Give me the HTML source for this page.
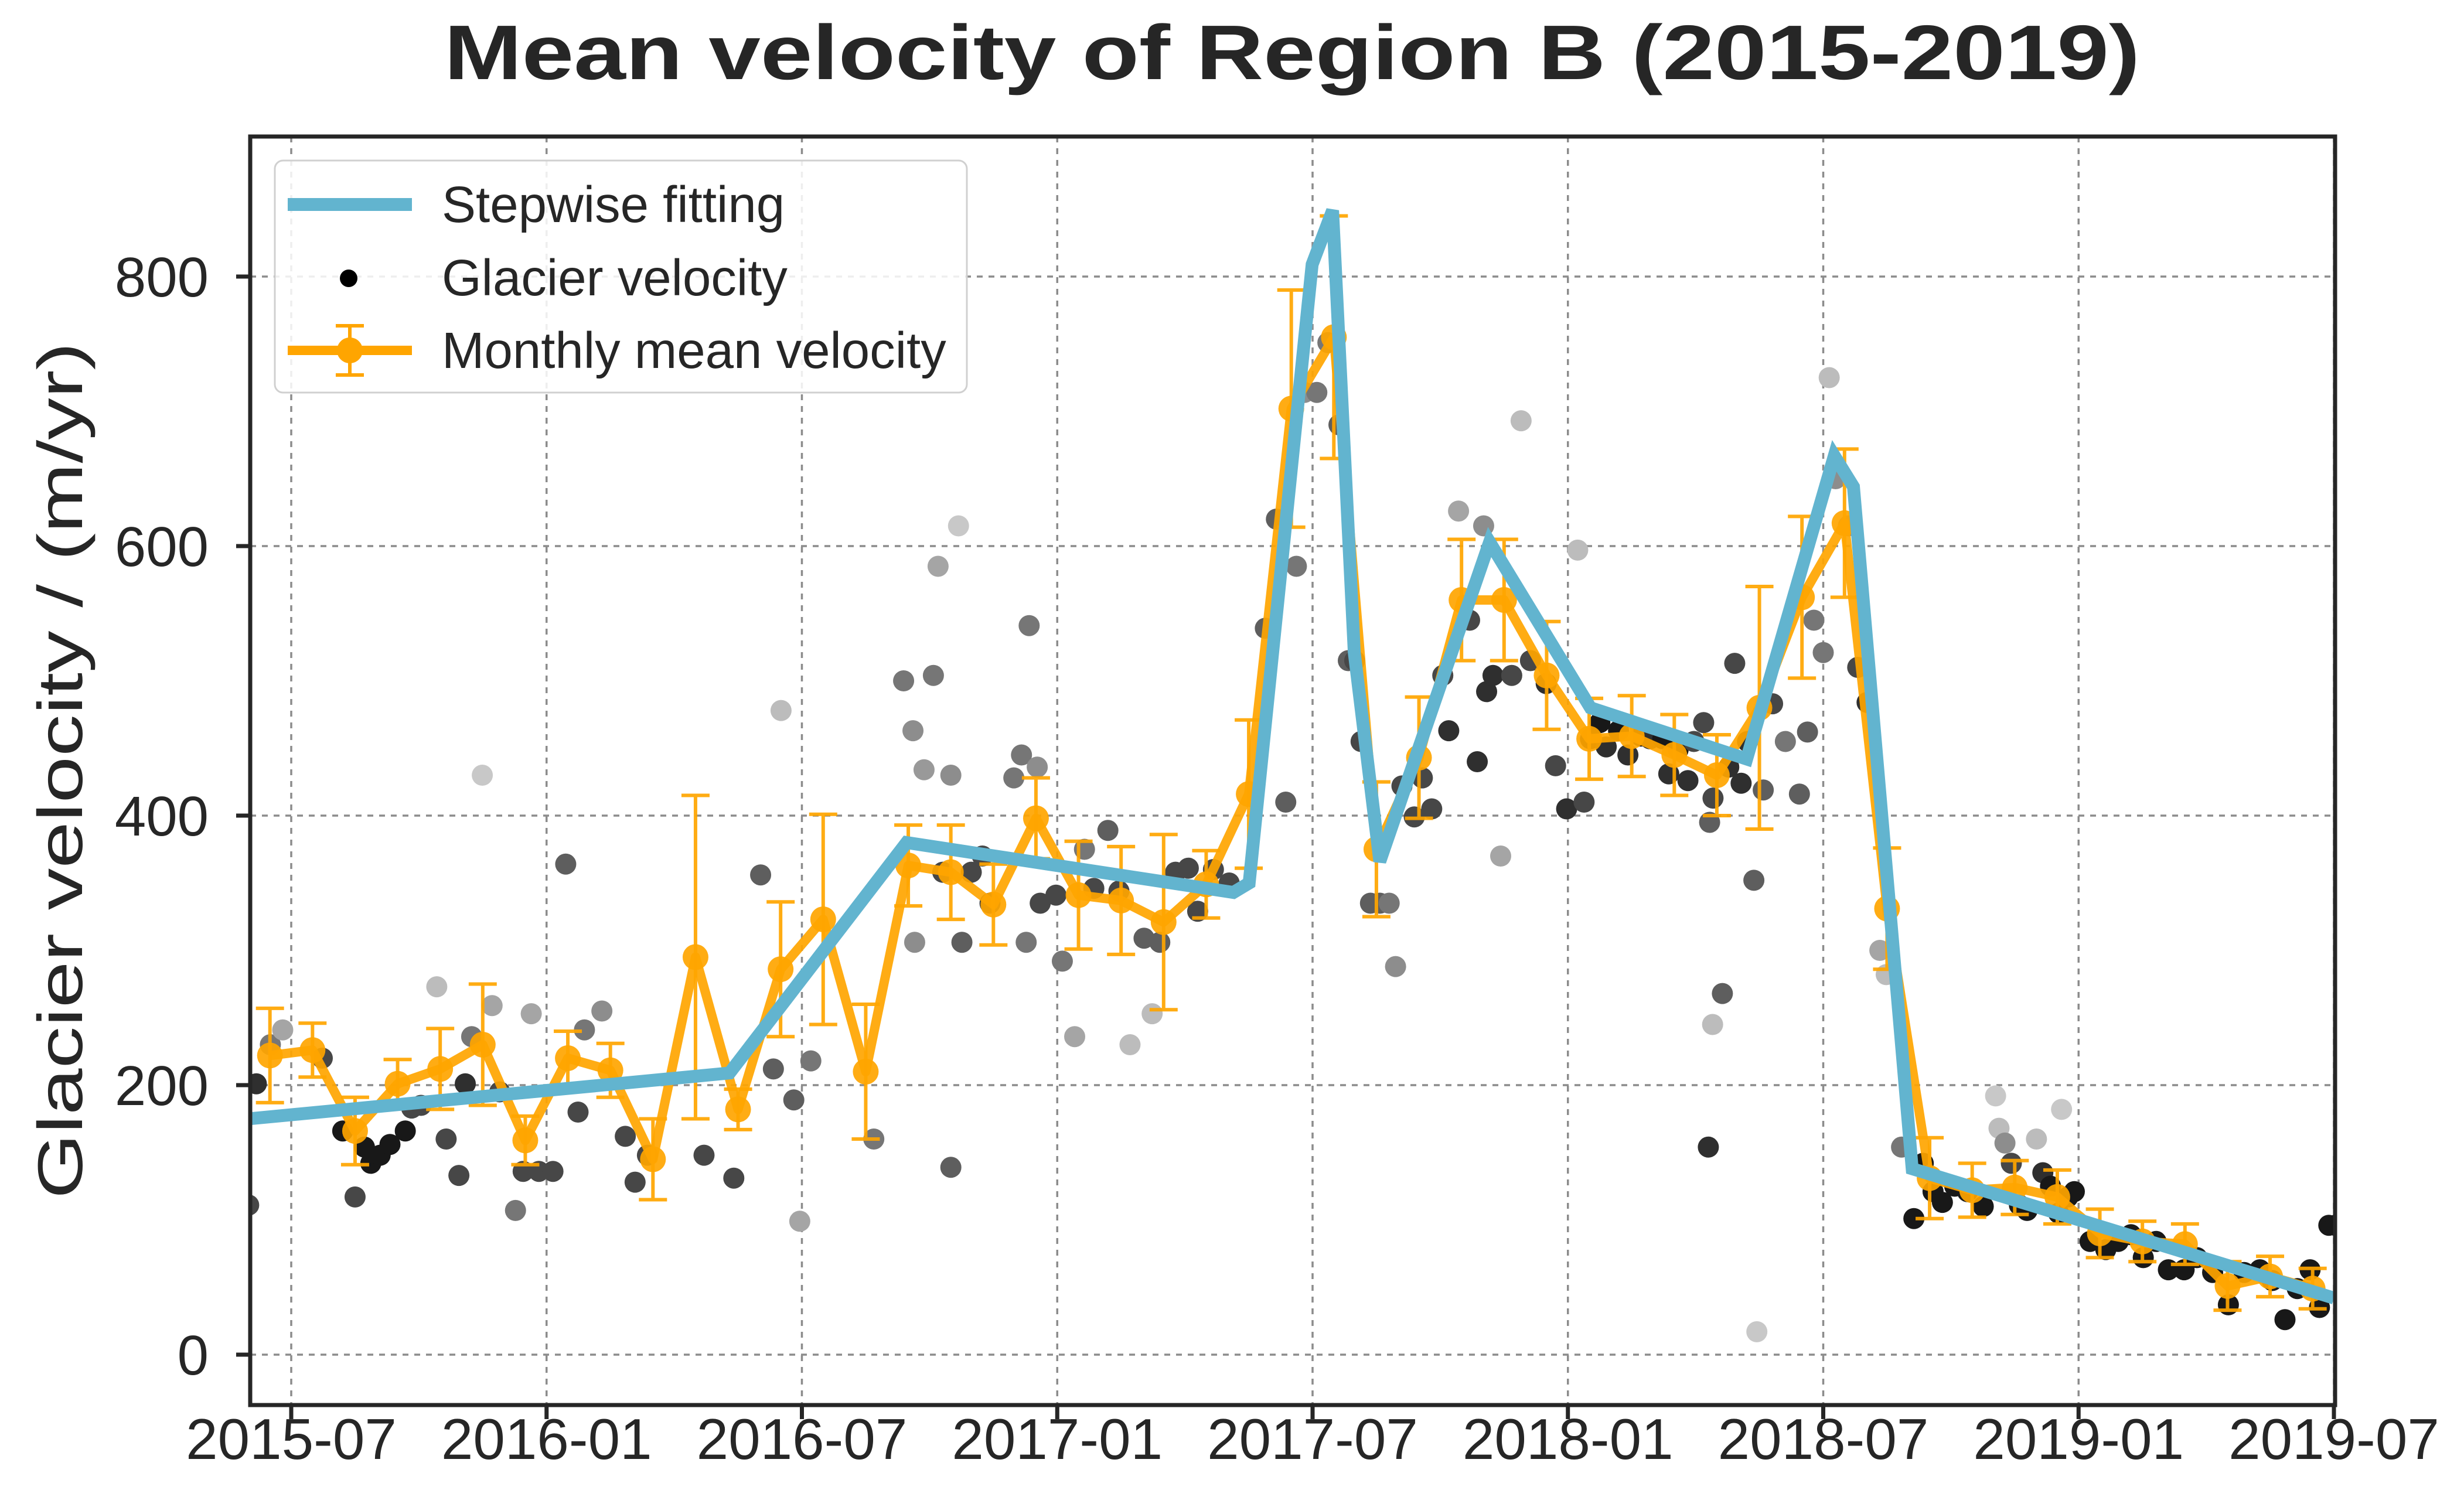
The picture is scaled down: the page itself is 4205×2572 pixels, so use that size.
<!DOCTYPE html>
<html><head><meta charset="utf-8"><style>html,body{margin:0;padding:0;background:#fff}svg{display:block}</style></head>
<body>
<svg id="chart" xmlns="http://www.w3.org/2000/svg" width="4205" height="2572" viewBox="0 0 4205 2572" font-family="Liberation Sans, Arial, sans-serif">
<defs><clipPath id="plotclip"><rect x="427" y="233" width="3558" height="2165"/></clipPath></defs>
<rect width="4205" height="2572" fill="#fff"/>
<text x="2205" y="135" text-anchor="middle" font-size="132" font-weight="bold" fill="#262626" textLength="2894" lengthAdjust="spacingAndGlyphs">Mean velocity of Region B (2015-2019)</text>
<text transform="translate(140,1315) rotate(-90)" text-anchor="middle" font-size="108" fill="#262626" textLength="1462" lengthAdjust="spacingAndGlyphs">Glacier velocity / (m/yr)</text>
<g id="grid"></g>
<g id="marks" clip-path="url(#plotclip)"></g>
<g id="axes"></g>
<g id="legend"></g>
</svg>
<script>
// months since 2015-07-01
const xTicksM = [0, 6, 12, 18, 24, 30, 36, 42, 48];
const xTickLabels = ['2015-07','2016-01','2016-07','2017-01','2017-07','2018-01','2018-07','2019-01','2019-07'];
const yTicks = [0, 200, 400, 600, 800];
const yTickLabels = ['0','200','400','600','800'];

const stepM = [-1.0, 10.3, 14.46, 22.14, 22.51, 23.99, 24.47, 24.98, 25.58, 28.16, 30.53, 34.2, 36.26, 36.71, 38.09, 48.0];
const stepV = [175, 209, 380, 343, 350, 809, 849, 521, 366, 603, 480, 442, 667, 644, 138, 42];

const monthStart = -0.5;
const monthlyMean = [222,226,166,201,212,230,159,220,211,145,295,182,286,323,210,363,358,334,398,341,337,321,349,416,702,755,375,443,560,560,504,457,459,445,430,480,562,617,331,131,122,124,117,90,84,82,51,58,49];
const monthlyErr = [35,20,25,18,30,45,18,20,20,30,120,15,50,78,50,30,35,30,30,40,40,65,25,55,88,90,50,45,45,45,40,30,30,30,30,90,60,55,45,30,20,20,20,18,15,15,18,15,15];

const scatM = [-1.0,-0.82,-0.49,-0.2,0.73,1.21,1.5,1.72,1.87,2.09,2.32,2.68,2.83,3.05,3.42,3.64,3.94,4.09,4.24,4.49,4.72,4.9,5.27,5.45,5.64,5.82,6.15,6.45,6.74,6.89,7.3,7.85,8.08,8.37,9.7,10.4,11.03,11.33,11.51,11.81,11.95,12.21,13.69,
14.39,14.61,14.65,14.87,15.09,15.2,15.31,15.5,15.5,15.68,15.76,15.98,16.24,16.42,16.98,17.16,17.27,17.34,17.53,17.6,17.97,18.12,18.41,18.64,18.86,19.19,19.45,19.71,20.04,20.23,20.41,20.78,21.08,21.3,21.67,22.04,
22.89,23.15,23.37,23.62,23.81,24.1,24.36,24.62,24.84,24.99,25.14,25.36,25.58,25.8,25.95,26.1,26.39,26.58,26.8,27.06,27.2,27.43,27.69,27.87,28.02,28.09,28.24,28.42,28.68,28.9,29.12,29.49,29.71,29.97,30.23,30.38,30.53,30.75,30.9,31.19,31.41,31.71,31.93,32.23,32.37,32.59,32.82,32.96,33.19,33.3,33.4,33.33,33.41,33.63,33.78,33.92,34.07,34.22,34.37,34.44,34.59,34.81,35.11,35.44,35.63,35.78,36.0,36.14,36.29,36.59,36.81,37.03,37.33,37.48,
37.84,38.13,38.35,38.58,38.8,39.09,39.39,39.76,40.05,40.13,40.27,40.42,40.61,40.79,41.01,41.16,41.34,41.53,41.6,41.75,41.9,42.27,42.64,42.93,43.23,43.52,43.82,44.11,44.48,44.78,45.15,45.52,45.89,46.26,46.55,46.85,47.14,47.44,47.66,47.88,48.03];
const scatV = [111,201,230,241,220,166,117,154,142,148,156,166,183,185,273,160,133,201,236,430,259,195,107,136,253,136,136,364,180,241,255,162,128,148,148,131,356,212,478,189,99,218,160,
500,463,306,434,504,585,358,139,430,615,306,358,370,335,428,445,306,541,436,335,341,292,236,375,346,389,344,230,309,253,306,358,361,329,360,350,
539,620,410,585,714,714,751,690,515,515,455,335,335,335,288,422,399,428,405,504,463,626,545,440,615,492,504,370,504,693,515,498,437,405,597,410,457,469,451,463,445,459,457,457,431,449,426,455,469,154,245,395,413,268,436,513,424,455,352,17,419,483,455,416,462,545,521,725,650,615,510,484,300,282,
154,101,142,121,113,125,121,110,192,168,157,142,111,107,160,135,125,105,182,117,121,84,78,84,89,72,84,63,63,72,61,37,61,63,55,26,49,63,35,96,96];
const scatShade = [.3,.2,.5,.7,.3,.1,.3,.1,.1,.1,.1,.1,.3,.3,.8,.3,.3,.2,.5,.85,.7,.3,.5,.3,.7,.3,.3,.4,.3,.5,.6,.3,.3,.3,.3,.3,.4,.4,.8,.4,.7,.5,.5,
.5,.6,.6,.65,.5,.7,.3,.4,.6,.85,.4,.3,.3,.3,.5,.5,.5,.5,.6,.3,.3,.5,.7,.5,.3,.4,.3,.8,.4,.8,.4,.3,.3,.3,.3,.3,
.4,.4,.4,.5,.6,.5,.5,.4,.4,.3,.3,.4,.4,.5,.6,.3,.3,.3,.3,.3,.2,.7,.3,.2,.6,.2,.2,.7,.3,.8,.3,.2,.3,.2,.8,.3,.1,.1,.2,.1,.2,.1,.2,.1,.2,.1,.2,.3,.3,.2,.8,.4,.3,.4,.2,.3,.2,.2,.4,.85,.4,.3,.5,.4,.4,.5,.5,.8,.6,.6,.3,.2,.7,.8,
.5,.1,.1,.1,.1,.1,.1,.1,.85,.8,.6,.3,.1,.1,.8,.2,.1,.1,.85,.1,.1,.1,.1,.1,.1,.1,.1,.1,.1,.1,.1,.1,.1,.1,.1,.1,.1,.1,.1,.1,.1];

const NS = 'http://www.w3.org/2000/svg';
const X0 = 427, X1 = 3985, Y0 = 233, Y1 = 2398;
function xs(m) { return 497 + m * 72.625; }
function ys(v) { return 2312 - v * 2.3; }
function mk(tag, attrs, parent) {
  const e = document.createElementNS(NS, tag);
  for (const k in attrs) e.setAttribute(k, attrs[k]);
  parent.appendChild(e);
  return e;
}
const grid = document.getElementById('grid');
const marks = document.getElementById('marks');
const axes = document.getElementById('axes');
const legend = document.getElementById('legend');

xTicksM.forEach((m, i) => {
  const l = mk('line', {x1: xs(m), x2: xs(m), y1: Y0, y2: Y1, stroke: '#8c8c8c', 'stroke-width': 3.5, 'stroke-dasharray': '10,10'}, grid);
  
  
});
yTicks.forEach((v, i) => {
  const l = mk('line', {x1: X0, x2: X1, y1: ys(v), y2: ys(v), stroke: '#8c8c8c', 'stroke-width': 3.5, 'stroke-dasharray': '10,10'}, grid);
  
  
});

scatM.forEach((m, i) => {
  const g = Math.round(scatShade[i] * 235);
  const c = mk('circle', {cx: xs(m), cy: ys(scatV[i]), r: 18, fill: `rgb(${g},${g},${g})`}, marks);
  
  
});

monthlyMean.forEach((v, i) => {
  const x = xs(monthStart + i);
  const e = monthlyErr[i];
  const g = mk('g', {stroke: '#ffa500', 'stroke-width': 6, opacity: 0.92}, marks);
  
  
  mk('line', {x1: x, x2: x, y1: ys(v - e), y2: ys(v + e)}, g);
  mk('line', {x1: x - 24, x2: x + 24, y1: ys(v - e), y2: ys(v - e)}, g);
  mk('line', {x1: x - 24, x2: x + 24, y1: ys(v + e), y2: ys(v + e)}, g);
});
const mline = mk('polyline', {points: monthlyMean.map((v, i) => xs(monthStart + i) + ',' + ys(v)).join(' '), fill: 'none', stroke: '#ffa500', 'stroke-width': 16, 'stroke-linejoin': 'round', opacity: 0.92}, marks);


monthlyMean.forEach((v, i) => {
  const c = mk('circle', {cx: xs(monthStart + i), cy: ys(v), r: 22, fill: '#ffa500', opacity: 0.92}, marks);
  
  
});

const sline = mk('polyline', {points: stepM.map((m, i) => xs(m) + ',' + ys(stepV[i])).join(' '), fill: 'none', stroke: '#62b4cf', 'stroke-width': 22, 'stroke-linejoin': 'miter'}, marks);



const frame = mk('rect', {x: X0, y: Y0, width: X1 - X0, height: Y1 - Y0, fill: 'none', stroke: '#262626', 'stroke-width': 7}, axes);


xTicksM.forEach((m, i) => {
  const t = mk('line', {x1: xs(m), x2: xs(m), y1: Y1, y2: Y1 + 24, stroke: '#262626', 'stroke-width': 7}, axes);
  
  
  const tx = mk('text', {x: xs(m), y: 2490, 'text-anchor': 'middle', 'font-size': 98, fill: '#262626'}, axes);
  
  
  tx.textContent = xTickLabels[i];
});
yTicks.forEach((v, i) => {
  const t = mk('line', {x1: X0 - 24, x2: X0, y1: ys(v), y2: ys(v), stroke: '#262626', 'stroke-width': 7}, axes);
  
  
  const tx = mk('text', {x: 356, y: ys(v) + 34, 'text-anchor': 'end', 'font-size': 96, fill: '#262626'}, axes);
  
  
  tx.textContent = yTickLabels[i];
});

const lb = mk('rect', {x: 469, y: 274, width: 1181, height: 396, rx: 14, fill: '#fff', 'fill-opacity': 0.85, stroke: '#d0d0d0', 'stroke-width': 3}, legend);


const l1 = mk('line', {x1: 491, x2: 703, y1: 349, y2: 349, stroke: '#62b4cf', 'stroke-width': 22}, legend);


const l2 = mk('circle', {cx: 595, cy: 475, r: 15, fill: '#000'}, legend);


const l3 = mk('g', {stroke: '#ffa500', 'stroke-width': 6}, legend);


mk('line', {x1: 491, x2: 703, y1: 598, y2: 598, 'stroke-width': 16}, l3);
mk('line', {x1: 597, x2: 597, y1: 556, y2: 640}, l3);
mk('line', {x1: 573, x2: 621, y1: 556, y2: 556}, l3);
mk('line', {x1: 573, x2: 621, y1: 640, y2: 640}, l3);
mk('circle', {cx: 597, cy: 598, r: 22, fill: '#ffa500', stroke: 'none'}, l3);
const labels = ['Stepwise fitting', 'Glacier velocity', 'Monthly mean velocity'];
const ly = [379, 504, 628];
labels.forEach((s, i) => {
  const t = mk('text', {x: 754, y: ly[i], 'font-size': 87, fill: '#262626'}, legend);
  
  
  t.textContent = s;
});
</script>
</body></html>
